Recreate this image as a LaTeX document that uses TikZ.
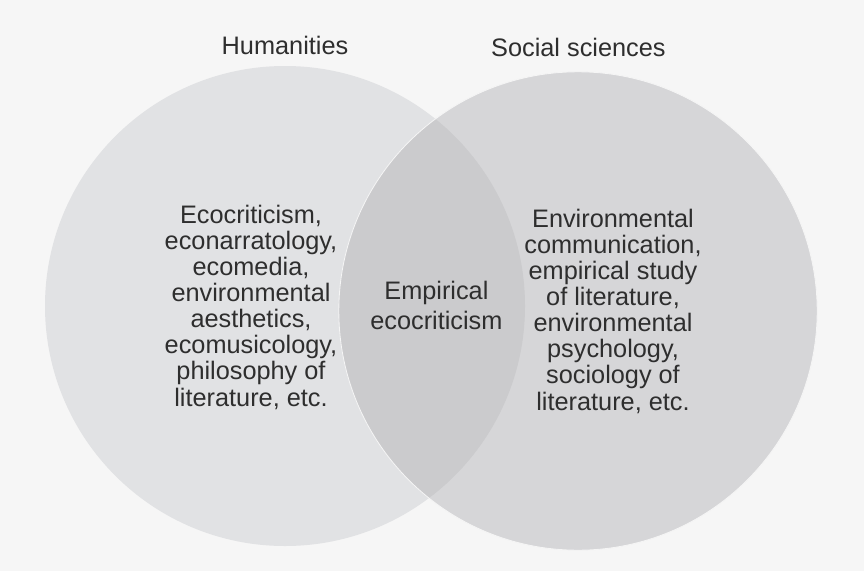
\documentclass[tikz,border=0pt]{standalone}
\usepackage{fontspec}
\setmainfont{Liberation Sans}
\usepackage{xcolor}
\usetikzlibrary{positioning}

\definecolor{paper}{HTML}{F6F6F6}
\definecolor{humfill}{HTML}{E1E2E4}
\definecolor{socfill}{HTML}{D6D6D8}
\definecolor{bothfill}{HTML}{CBCBCD}
\definecolor{inkgray}{HTML}{2E2E2E}

\tikzset{
    setlabel/.style={font=\fontsize{18}{18.6}\selectfont, text=inkgray, inner sep=0pt},
    fieldtext/.style={setlabel, align=center},
}

\begin{document}
\begin{tikzpicture}
        % Page background
        \fill[paper] (0,0) rectangle (21.6,14.275);
        \useasboundingbox (0,0) rectangle (21.6,14.275);

        % Centres of the two sets
        \coordinate (hum) at (7.125,6.625);
        \coordinate (soc) at (14.45,6.5);

        % The two sets as circles
        \fill[humfill] (hum) circle (6cm);
        \fill[socfill] (soc) circle (5.98cm);

        % Overlap of both sets
        \begin{scope}
            \clip (hum) circle (6cm);
            \fill[bothfill] (soc) circle (5.98cm);
        \end{scope}
        \draw[white!75!socfill, line width=0.6pt] (soc) circle (5.98cm);

        % Set names
        \node[setlabel, anchor=base] (humname) at (7.125,12.92) {Humanities};
        \node[setlabel, anchor=base] (socname) at (14.46,12.86) {Social sciences};

        % Fields in each part
        \node[fieldtext] (humfields) at (6.275,6.6) {Ecocriticism,\\econarratology,\\ecomedia,\\environmental\\aesthetics,\\ecomusicology,\\philosophy of\\literature, etc.};
        \node[fieldtext, font=\fontsize{18}{21}\selectfont] (bothfields) at (10.91,6.64) {Empirical\\ecocriticism};
        \node[fieldtext] (socfields) at (15.325,6.5) {Environmental\\communication,\\empirical study\\of literature,\\environmental\\psychology,\\sociology of\\literature, etc.};
    \end{tikzpicture}
\end{document}
